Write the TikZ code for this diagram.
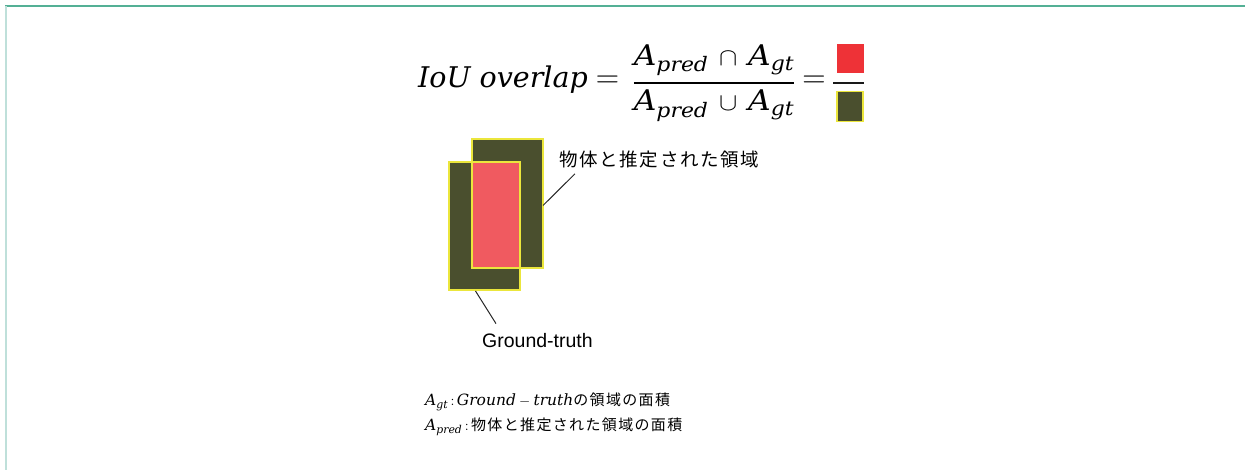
\documentclass[tikz,border=0pt]{standalone}
\usepackage{amsmath}
\usepackage{fontspec}
\setmainfont{Liberation Sans}
\newfontfamily\jp{Noto Sans CJK JP}
\newfontfamily\dvs{DejaVu Serif}
\newcommand\vv[1]{\text{\dvs\itshape #1}}
\usetikzlibrary{calc}
\definecolor{olive}{HTML}{4A4F2E}
\definecolor{boxyellow}{HTML}{EBE63C}
\definecolor{interred}{HTML}{F05A60}
\definecolor{sqred}{HTML}{EE3237}
\definecolor{topteal}{HTML}{54B095}
\definecolor{leftteal}{HTML}{BFE0DA}
\tikzset{
  area/.style={fill=olive, draw=boxyellow, inner sep=0pt, outer sep=0pt},
  leader/.style={draw=black!85, line width=1pt},
  lbl/.style={inner sep=0pt, anchor=west},
  eq/.style={inner sep=0pt, font=\fontsize{28.5}{34}\selectfont},
}
\begin{document}
\begin{tikzpicture}[x=1pt,y=-1pt]
\useasboundingbox (0,0) rectangle (1245,470);
% frame
\draw[topteal, line width=1.6pt] (5,6) -- (1245,6);
\draw[leftteal, line width=2.2pt] (6,6) -- (6,470);
% formula
\node[eq, anchor=west] (iou) at (418,80) {$\vv{IoU overlap}$};
\node[eq] (eq1) at (607.5,82) {\scalebox{1.3}{$=$}};
\node[eq] (frac) at (714,83) {\scalebox{1.1}[1]{$\genfrac{}{}{2pt}{0}{\vv{A}_{\vv{pred}}\,\cap\,\vv{A}_{\vv{gt}}}{\vv{A}_{\vv{pred}}\,\cup\,\vv{A}_{\vv{gt}}}$}};
\node[eq] (eq2) at (814,82) {\scalebox{1.3}{$=$}};
\node[inner sep=0pt, fill=sqred, minimum width=27pt, minimum height=29pt] (rsq) at (850,58.5) {};
\node[area, line width=1.5pt, minimum width=26pt, minimum height=30pt] (osq) at (850,106.5) {};
\draw[black!90, line width=2.6pt] (rsq.south west |- eq2) ++(-3,1) coordinate (barL) -- (barL -| rsq.east) coordinate (barR);
% boxes
\node[area, line width=1.2pt, minimum width=71pt, minimum height=129pt] (pred) at (507.5,203.5) {};
\node[area, line width=2pt, minimum width=71pt, minimum height=128pt] (gt) at (484.5,226) {};
\fill[interred] (pred.west |- gt.north) rectangle (gt.east |- pred.south);
\draw[boxyellow, line width=1.4pt] (pred.west |- gt.north) rectangle (gt.east |- pred.south);
\draw[boxyellow, line width=2pt] (gt.north) -| (gt.east);
% labels
\node[lbl, font=\jp\fontsize{18.5}{21}\selectfont\addfontfeature{LetterSpace=9}] (plabel) at (559,160) {物体と推定された領域};
\node[lbl, font=\fontsize{19.5}{23}\selectfont] (glabel) at (482,341) {Ground-truth};
\draw[leader] ($(pred.east)+(0,2)$) -- ($(plabel.south west)+(16,5)$);
\draw[leader] ($(gt.south)+(-9,1)$) -- ($(glabel.north west)+(14,-10)$);
% legend
\node[lbl, font=\fontsize{15.5}{18}\selectfont] (leg1) at (425,402) {$\vv{A}_{\vv{gt}}\,{:}\,\vv{Ground}-\vv{truth}$\jp\fontsize{15}{17}\selectfont\addfontfeature{LetterSpace=9}の領域の面積};
\node[lbl, font=\fontsize{15.5}{18}\selectfont] (leg2) at (425,427) {$\vv{A}_{\vv{pred}}\,{:}\,${\jp\fontsize{15}{17}\selectfont\addfontfeature{LetterSpace=9}物体と推定された領域の面積}};
\end{tikzpicture}
\end{document}
